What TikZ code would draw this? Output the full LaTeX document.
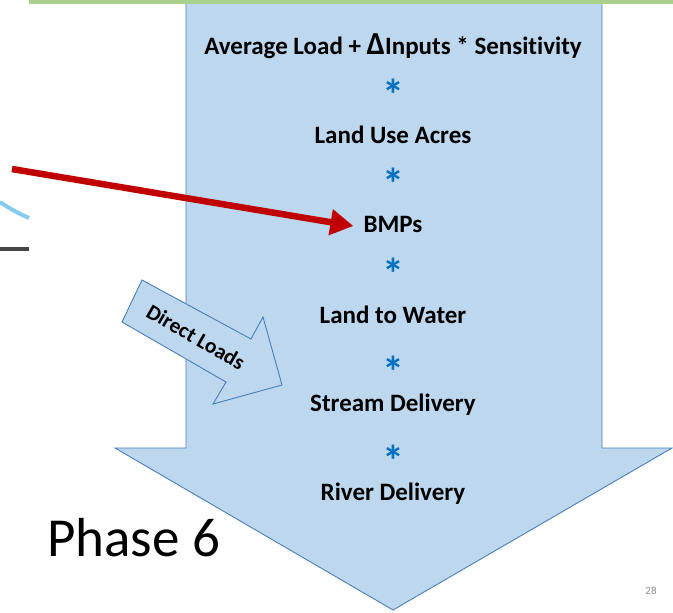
\documentclass[tikz,border=0pt]{standalone}
\usepackage{fontspec}
\setmainfont{Carlito}[Ligatures=NoCommon]
\usepackage{tikz}
\usetikzlibrary{arrows.meta,positioning}
\definecolor{Flow}{HTML}{BDD7EE}
\definecolor{FlowEdge}{HTML}{4A7EBB}
\definecolor{Star}{HTML}{0070C0}
\definecolor{Pointer}{HTML}{C00000}
\definecolor{Band}{HTML}{A9D18E}
\definecolor{PageNo}{HTML}{8C8C8C}
\definecolor{Sky}{HTML}{86CBEE}
\definecolor{Rule}{HTML}{454545}
\tikzset{
  flowshape/.style={draw=FlowEdge,fill=Flow,line width=0.9pt,line join=miter},
  term/.style={font=\fontsize{25}{28}\bfseries\selectfont,inner sep=0pt},
  star/.style={font=\fontsize{44}{44}\bfseries\selectfont,text=Star,inner sep=0pt},
  pointer/.style={draw=Pointer,line width=6.5pt,-{Triangle[length=23pt,width=25pt]}},
  side/.style={font=\fontsize{21.5}{22}\bfseries\selectfont,inner sep=0pt}
}

\begin{document}
\begin{tikzpicture}[x=1pt,y=-1pt]
  \useasboundingbox (0,0) rectangle (673,613);
  % picture cut off at the left
  \draw[Sky,line width=4pt] (0,202) .. controls (10,209) and (20,214) .. (29,218);
  \draw[Rule,line width=4pt] (0,249) -- (29,249);
  % big downward arrow
  \draw[flowshape] (186,4) -- (186,448) -- (115,448) -- (393,610) -- (672,448) -- (602,448) -- (602,4);
  \fill[Flow] (186.5,0) rectangle (601.5,4.5);
  \fill[Band] (29,0) rectangle (673,4);
  % side arrow
  \draw[flowshape] (142,280) -- (251,339) -- (263,317) -- (282,385) -- (213,404) -- (226,382) -- (122,322) -- cycle;
  \node[side,rotate=-30] (dl) at (196,337) {Direct Loads};
  % chain of terms
  \node[term] (avg) at (393,46) {Average Load + {\fontsize{32}{32}\selectfont Δ}Inputs * Sensitivity};
  \node[term] (acres) at (393,135) {Land Use Acres};
  \node[term] (bmp) at (393,224) {BMPs};
  \node[term] (l2w) at (393,315) {Land to Water};
  \node[term] (stream) at (393,405) {Stream Delivery};
  \node[term] (river) at (393,494) {River Delivery};
  \foreach \i/\y in {1/95,2/184,3/274,4/372,5/461}
    \node[star] (s\i) at (393,\y) {*};
  \coordinate (src) at (12,169);
  \draw[pointer] (src) -- ([xshift=-10pt,yshift=-2pt]bmp.west);
  \node[anchor=base west,font=\fontsize{55}{55}\selectfont,inner sep=0pt] (phase) at (47,556) {Phase 6};
  \node[font=\fontsize{11}{11}\selectfont,text=PageNo,inner sep=0pt] (pg) at (651,591) {28};
\end{tikzpicture}
\end{document}
